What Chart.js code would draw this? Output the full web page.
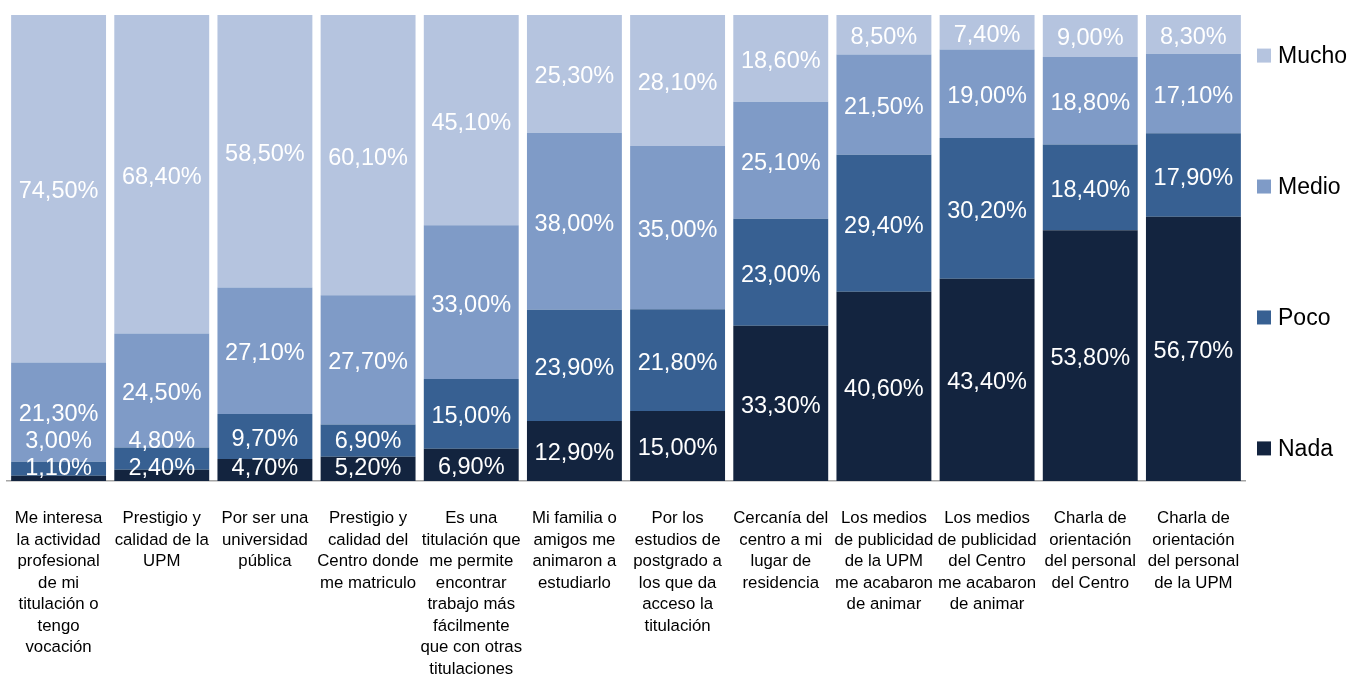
<!DOCTYPE html>
<html lang="es">
<head>
    <meta charset="UTF-8">
    <title>Motivos de elección</title>
    <script src="https://cdn.jsdelivr.net/npm/chart.js"></script>
    <style>
        html, body {
            margin: 0;
            padding: 0;
            background: #ffffff;
        }
        #wrap {
            width: 1350px;
            height: 677px;
            position: relative;
        }
    </style>
</head>
<body>
    <div id="wrap">
        <canvas id="chart"></canvas>
    </div>

    <script>
        // Categories (one array of lines per bar)
        const categories = [
            ['Me interesa', 'la actividad', 'profesional', 'de mi', 'titulación o', 'tengo', 'vocación'],
            ['Prestigio y', 'calidad de la', 'UPM'],
            ['Por ser una', 'universidad', 'pública'],
            ['Prestigio y', 'calidad del', 'Centro donde', 'me matriculo'],
            ['Es una', 'titulación que', 'me permite', 'encontrar', 'trabajo más', 'fácilmente', 'que con otras', 'titulaciones'],
            ['Mi familia o', 'amigos me', 'animaron a', 'estudiarlo'],
            ['Por los', 'estudios de', 'postgrado a', 'los que da', 'acceso la', 'titulación'],
            ['Cercanía del', 'centro a mi', 'lugar de', 'residencia'],
            ['Los medios', 'de publicidad', 'de la UPM', 'me acabaron', 'de animar'],
            ['Los medios', 'de publicidad', 'del Centro', 'me acabaron', 'de animar'],
            ['Charla de', 'orientación', 'del personal', 'del Centro'],
            ['Charla de', 'orientación', 'del personal', 'de la UPM']
        ];

        // Series values (%)
        const nada  = [1.1, 2.4, 4.7, 5.2, 6.9, 12.9, 15.0, 33.3, 40.6, 43.4, 53.8, 56.7];
        const poco  = [3.0, 4.8, 9.7, 6.9, 15.0, 23.9, 21.8, 23.0, 29.4, 30.2, 18.4, 17.9];
        const medio = [21.3, 24.5, 27.1, 27.7, 33.0, 38.0, 35.0, 25.1, 21.5, 19.0, 18.8, 17.1];
        const mucho = [74.5, 68.4, 58.5, 60.1, 45.1, 25.3, 28.1, 18.6, 8.5, 7.4, 9.0, 8.3];

        const seriesNames = ['Nada', 'Poco', 'Medio', 'Mucho'];
        const seriesValues = [nada, poco, medio, mucho];
        const seriesColors = ['#13243f', '#376092', '#7f9bc7', '#b5c4df'];

        // 100% stacked: each bar normalised to its own total
        const totals = categories.map((c, i) => seriesValues.reduce((s, arr) => s + arr[i], 0));

        const datasets = seriesNames.map((name, k) => ({
            label: name,
            data: seriesValues[k].map((v, i) => v / totals[i] * 100),
            raw: seriesValues[k],
            backgroundColor: seriesColors[k],
            borderWidth: 0,
            barPercentage: 0.92,
            categoryPercentage: 1.0
        }));

        const fmt = v => v.toFixed(2).replace('.', ',') + '%';

        // White value labels, centred in each segment, pushed up when they would collide
        const valueLabels = {
            id: 'valueLabels',
            afterDatasetsDraw(chart) {
                const ctx = chart.ctx;
                const area = chart.chartArea;
                ctx.save();
                ctx.fillStyle = '#ffffff';
                ctx.font = '23.5px "Liberation Sans", Arial, sans-serif';
                ctx.textAlign = 'center';
                ctx.textBaseline = 'middle';
                categories.forEach((c, i) => {
                    let prev = null;
                    chart.data.datasets.forEach((ds, k) => {
                        const bar = chart.getDatasetMeta(k).data[i];
                        let y = (bar.y + bar.base) / 2 + 3;
                        y = Math.min(y, area.bottom - 12);
                        if (prev !== null) y = Math.min(y, prev - 27);
                        prev = y;
                        ctx.fillText(fmt(ds.raw[i]), bar.x, y);
                    });
                });
                ctx.restore();
            }
        };

        // Legend on the right, top item = last series
        const sideLegend = {
            id: 'sideLegend',
            afterDraw(chart) {
                const ctx = chart.ctx;
                const area = chart.chartArea;
                const step = (area.bottom - area.top) * 0.281;
                const mid = (area.top + area.bottom) / 2 + 4;
                const x = 1257;
                ctx.save();
                ctx.font = '23px "Liberation Sans", Arial, sans-serif';
                ctx.textBaseline = 'middle';
                ctx.textAlign = 'left';
                const items = chart.data.datasets.slice().reverse();
                items.forEach((ds, j) => {
                    const y = mid + (j - 1.5) * step;
                    ctx.fillStyle = ds.backgroundColor;
                    ctx.fillRect(x, y - 7, 14, 14);
                    ctx.fillStyle = '#000000';
                    ctx.fillText(ds.label, x + 21, y + 1);
                });
                ctx.restore();
            }
        };

        new Chart(document.getElementById('chart'), {
            type: 'bar',
            data: {
                labels: categories,
                datasets: datasets
            },
            options: {
                responsive: true,
                maintainAspectRatio: false,
                animation: false,
                layout: {
                    padding: { top: 15, left: 7, right: 105, bottom: 0 }
                },
                plugins: {
                    legend: { display: false },
                    tooltip: { enabled: false }
                },
                scales: {
                    x: {
                        stacked: true,
                        afterFit(scale) {
                            scale.height = 196;
                            scale.paddingLeft = 0;
                            scale.paddingRight = 0;
                        },
                        grid: { display: false, drawTicks: false },
                        border: { display: true, color: '#a6a6a6', width: 1.5 },
                        ticks: {
                            autoSkip: false,
                            maxRotation: 0,
                            minRotation: 0,
                            padding: 27,
                            color: '#000000',
                            font: { family: '"Liberation Sans", Arial, sans-serif', size: 16.8, lineHeight: '21.5px' }
                        }
                    },
                    y: {
                        stacked: true,
                        display: false,
                        min: 0,
                        max: 100
                    }
                }
            },
            plugins: [valueLabels, sideLegend]
        });
    </script>
</body>
</html>
